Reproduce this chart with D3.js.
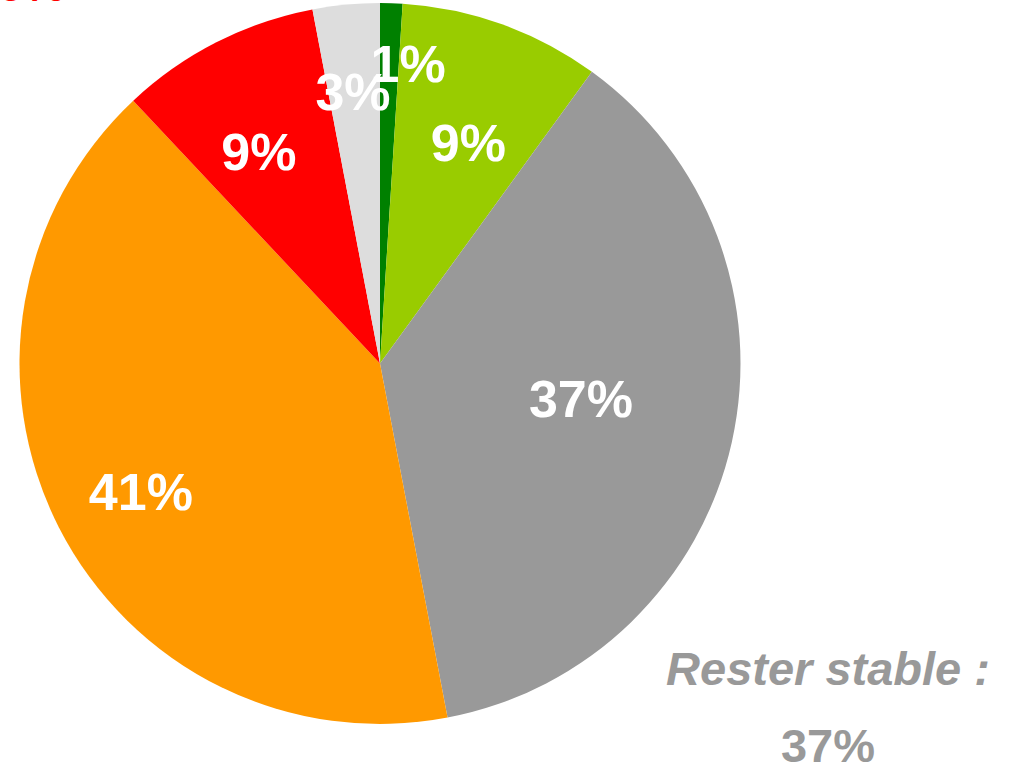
<!DOCTYPE html>
<html>
<head>
<meta charset="utf-8">
<script src="https://cdn.jsdelivr.net/npm/d3@7"></script>
<style>
  body { margin: 0; background: #fff; }
  svg { display: block; }
  text { font-family: "Liberation Sans", Arial, sans-serif; font-weight: bold; }
</style>
</head>
<body>
<svg width="1013" height="768"></svg>
<script>
// the data
var categories = ["Augmenter fortement", "Augmenter", "Rester stable", "Diminuer", "Diminuer fortement", "NSP"];
var values = [1, 9, 37, 41, 9, 3];
var colors = ["#008000", "#99cc00", "#999999", "#ff9900", "#ff0000", "#dddddd"];

// label distance from centre, as share of radius, and angle nudge (layout only)
var labelRadius = [0.834, 0.66, 0.566, 0.753, 0.676, 0.757];
var labelAngleShift = [0.062, 0.035, -0.045, -0.022, -0.049, -0.005];

var svg = d3.select("svg"),
    width = +svg.attr("width"),
    height = +svg.attr("height");

var cx = 380, cy = 363.5, radius = 360.5;

var pie = d3.pie().sort(null).value(function(d) { return d; });
var arcs = pie(values);

var arc = d3.arc().innerRadius(0).outerRadius(radius);

var g = svg.append("g").attr("transform", "translate(" + cx + "," + cy + ")");

g.selectAll("path.slice")
    .data(arcs)
    .enter().append("path")
    .attr("class", "slice")
    .attr("d", arc)
    .attr("fill", function(d, i) { return colors[i]; });

// slice labels
g.selectAll("text.pct")
    .data(arcs)
    .enter().append("text")
    .attr("class", "pct")
    .attr("text-anchor", "middle")
    .attr("font-size", 52)
    .attr("fill", "#fff")
    .attr("transform", function(d, i) {
        var a = (d.startAngle + d.endAngle) / 2 + labelAngleShift[i];
        var r = radius * labelRadius[i];
        var x = Math.sin(a) * r, y = -Math.cos(a) * r;
        return "translate(" + x + "," + (y + 18) + ")";
    })
    .text(function(d) { return d.data + "%"; });

// callout for the "stable" group
var callout = svg.append("text")
    .attr("text-anchor", "middle")
    .attr("font-size", 47)
    .attr("fill", "#999999");
callout.append("tspan").attr("x", 828).attr("y", 685).attr("font-style", "italic").text(categories[2] + " :");
callout.append("tspan").attr("x", 828).attr("y", 762).text(values[2] + "%");

// red callout cut off at the top
svg.append("text")
    .attr("text-anchor", "middle")
    .attr("font-size", 46)
    .attr("fill", "#ff0000")
    .attr("x", 32)
    .attr("y", 1)
    .text(values[4] + "%");
</script>
</body>
</html>
